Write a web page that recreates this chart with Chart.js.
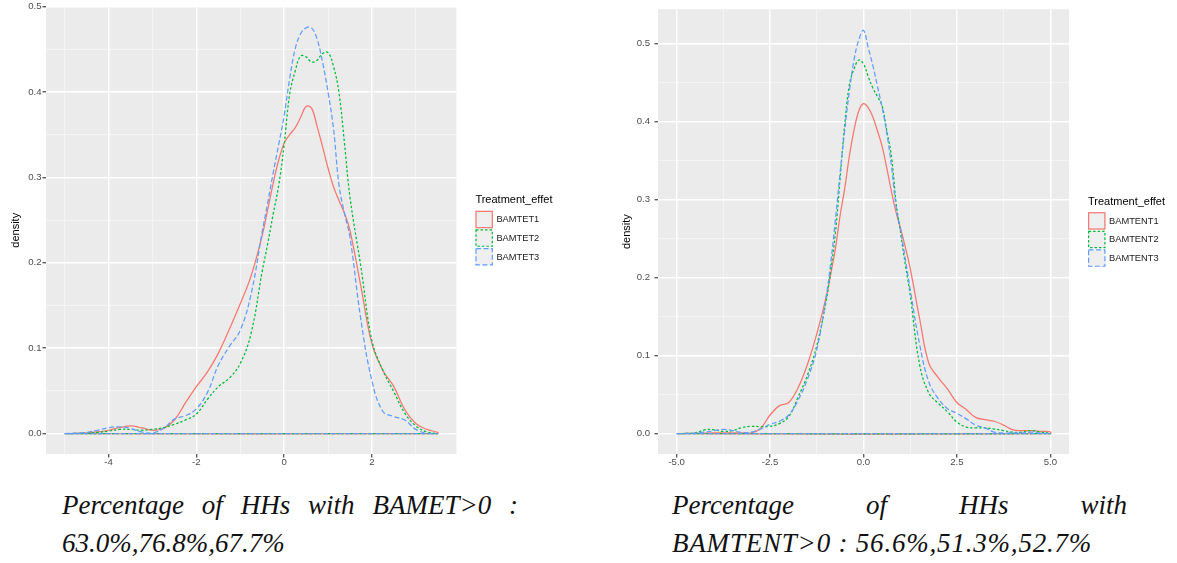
<!DOCTYPE html>
<html>
<head>
<meta charset="utf-8">
<script src="https://cdn.jsdelivr.net/npm/chart.js@4.4.1/dist/chart.umd.min.js"></script>
<style>
  html, body { margin: 0; padding: 0; background: #fff; }
  body { width: 1177px; height: 563px; position: relative; overflow: hidden; }
  canvas { position: absolute; top: 0; }
  #chartLeft { left: 0; }
  #chartRight { left: 612px; }
  .caption {
    position: absolute;
    top: 486px;
    width: 456px;
    font-family: "Liberation Serif", "DejaVu Serif", serif;
    font-style: italic;
    font-size: 27px;
    line-height: 38px;
    color: #111;
    text-align: justify;
    text-align-last: left;
  }
  #capLeft { left: 62px; }
  #capRight { left: 672px; width: 455px; }
  .nowrap { white-space: nowrap; letter-spacing: 0.8px; }
</style>
</head>
<body>
<canvas id="chartLeft" width="600" height="470"></canvas>
<canvas id="chartRight" width="565" height="470"></canvas>
<div class="caption" id="capLeft">Percentage of HHs with BAMET&gt;0 : 63.0%,76.8%,67.7%</div>
<div class="caption" id="capRight">Percentage of HHs with <span class="nowrap">BAMTENT&gt;0 : 56.6%,51.3%,52.7%</span></div>
<script>
// ---- left panel: BAMET densities ----
const leftX = [-5, -4.75, -4.5, -4.25, -4, -3.75, -3.5, -3.25, -3, -2.75, -2.5, -2.25, -2, -1.75, -1.5, -1.25, -1, -0.75,
   -0.5, -0.375, -0.25, -0.125, 0, 0.125, 0.25, 0.375, 0.5, 0.625, 0.75, 0.875, 1, 1.125, 1.25, 1.375, 1.5,
   1.75, 2, 2.25, 2.5, 2.75, 3, 3.25, 3.5];
const bamtet1 = [0, 0.0003, 0.001, 0.002, 0.004, 0.007, 0.009, 0.007, 0.004, 0.006, 0.016, 0.036, 0.055, 0.072, 0.094, 0.122, 0.152, 0.185,
   0.232, 0.262, 0.293, 0.320, 0.340, 0.350, 0.358, 0.370, 0.383, 0.381, 0.360, 0.336, 0.311, 0.289, 0.273, 0.258, 0.238,
   0.172, 0.105, 0.074, 0.055, 0.028, 0.012, 0.005, 0.0015];
const bamtet2 = [0, 0.0002, 0.0006, 0.0015, 0.003, 0.005, 0.005, 0.004, 0.005, 0.007, 0.011, 0.016, 0.023, 0.040, 0.055, 0.065, 0.082, 0.118,
   0.190, 0.222, 0.257, 0.290, 0.338, 0.397, 0.424, 0.442, 0.441, 0.435, 0.437, 0.445, 0.446, 0.430, 0.399, 0.340, 0.277,
   0.195, 0.109, 0.074, 0.049, 0.024, 0.009, 0.002, 0];
const bamtet3 = [0, 0.0005, 0.0015, 0.004, 0.007, 0.008, 0.006, 0.002, 0.001, 0.006, 0.017, 0.021, 0.029, 0.048, 0.080, 0.102, 0.121, 0.164,
   0.236, 0.270, 0.305, 0.338, 0.372, 0.415, 0.450, 0.468, 0.475, 0.475, 0.462, 0.435, 0.400, 0.357, 0.291, 0.258, 0.230,
   0.133, 0.062, 0.026, 0.020, 0.016, 0.005, 0.0005, 0];
const leftNames = ["BAMTET1", "BAMTET2", "BAMTET3"];
const leftXMajor = [-4, -2, 0, 2];
const leftXMinor = [-5, -3, -1, 1, 3];
const leftXLabels = ["-4", "-2", "0", "2"];

// ---- right panel: BAMTENT densities ----
const rightX = [-5, -4.75, -4.5, -4.25, -4, -3.75, -3.5, -3.25, -3, -2.75, -2.5, -2.25, -2, -1.75, -1.5, -1.25,
   -1, -0.875, -0.75, -0.625, -0.5, -0.375, -0.25, -0.125, 0, 0.125, 0.25, 0.375, 0.5, 0.625, 0.75, 0.875, 1, 1.125, 1.25,
   1.5, 1.75, 2, 2.25, 2.5, 2.75, 3, 3.25, 3.5, 3.75, 4, 4.25, 4.5, 4.75, 5];
const bamtent1 = [0, 0.0003, 0.0005, 0.0008, 0.001, 0.001, 0.001, 0.001, 0.001, 0.007, 0.024, 0.036, 0.040, 0.059, 0.089, 0.128,
   0.175, 0.205, 0.238, 0.280, 0.315, 0.357, 0.390, 0.414, 0.423, 0.418, 0.406, 0.388, 0.368, 0.340, 0.310, 0.283, 0.262, 0.238, 0.212,
   0.148, 0.090, 0.072, 0.057, 0.040, 0.031, 0.021, 0.018, 0.016, 0.011, 0.005, 0.004, 0.004, 0.003, 0.0025];
const bamtent2 = [0, 0.0003, 0.001, 0.005, 0.005, 0.003, 0.004, 0.008, 0.0095, 0.009, 0.0095, 0.013, 0.022, 0.047, 0.075, 0.113,
   0.170, 0.210, 0.258, 0.328, 0.398, 0.448, 0.468, 0.479, 0.474, 0.458, 0.443, 0.432, 0.420, 0.388, 0.355, 0.295, 0.255, 0.215, 0.178,
   0.089, 0.052, 0.039, 0.028, 0.015, 0.0085, 0.0075, 0.0075, 0.006, 0.004, 0.002, 0.002, 0.004, 0.002, 0.0005];
const bamtent3 = [0, 0.0003, 0.0008, 0.002, 0.004, 0.0055, 0.004, 0.0015, 0.002, 0.006, 0.012, 0.016, 0.024, 0.043, 0.070, 0.108,
   0.175, 0.220, 0.275, 0.335, 0.390, 0.440, 0.480, 0.505, 0.517, 0.495, 0.472, 0.445, 0.418, 0.385, 0.343, 0.290, 0.259, 0.222, 0.185,
   0.115, 0.066, 0.045, 0.032, 0.026, 0.019, 0.011, 0.0075, 0.002, 0.001, 0.001, 0.001, 0.002, 0.001, 0];
const rightNames = ["BAMTENT1", "BAMTENT2", "BAMTENT3"];
const rightXMajor = [-5, -2.5, 0, 2.5, 5];
const rightXMinor = [-3.75, -1.25, 1.25, 3.75];
const rightXLabels = ["-5.0", "-2.5", "0.0", "2.5", "5.0"];

const yMajor = [0, 0.1, 0.2, 0.3, 0.4, 0.5];
const yMinor = [0.05, 0.15, 0.25, 0.35, 0.45];
const yLabels = ["0.0", "0.1", "0.2", "0.3", "0.4", "0.5"];

const lineColors = ["#F8766D", "#00BA38", "#619CFF"];
const lineDashes = [[], [2.5, 2], [5, 2.5]];

Chart.defaults.font.family = '"Liberation Sans", Arial, sans-serif';

// ggplot draws each density as a closed polygon, so the path runs back along y = 0
function densityPath(xs, ys) {
   const pts = xs.map((x, i) => ({ x: x, y: ys[i] }));
   pts.push({ x: xs[xs.length - 1], y: 0 });
   pts.push({ x: xs[0], y: 0 });
   return pts;
}

function tickList(major, minor) {
   return major.map(v => ({ value: v }))
      .concat(minor.map(v => ({ value: v, minor: true })))
      .sort((a, b) => a.value - b.value);
}

const panelBackground = {
   id: "panelBackground",
   beforeDraw(chart) {
      const { ctx, chartArea: a } = chart;
      ctx.save();
      ctx.fillStyle = "#EBEBEB";
      ctx.fillRect(a.left, a.top, a.right - a.left, a.bottom - a.top);
      ctx.restore();
   }
};

const ggLegend = {
   id: "ggLegend",
   afterDraw(chart, args, opts) {
      const { ctx, chartArea: a } = chart;
      const x = a.right + 19;
      const mid = (a.top + a.bottom) / 2;
      ctx.save();
      ctx.textBaseline = "middle";
      ctx.fillStyle = "#000";
      ctx.font = '11px "Liberation Sans", Arial, sans-serif';
      ctx.fillText(opts.title, x, mid - 30);
      chart.data.datasets.forEach((ds, i) => {
         const top = mid - 19.5 + i * 18.6;
         ctx.fillStyle = "#EFEFEF";
         ctx.fillRect(x, top, 17.5, 17.5);
         ctx.strokeStyle = ds.borderColor;
         ctx.lineWidth = 1.2;
         ctx.setLineDash(ds.borderDash);
         ctx.strokeRect(x + 0.6, top + 0.6, 16.3, 16.3);
         ctx.setLineDash([]);
         ctx.fillStyle = "#1A1A1A";
         ctx.font = '9.3px "Liberation Sans", Arial, sans-serif';
         ctx.fillText(ds.label, x + 21, top + 9);
      });
      ctx.restore();
   }
};

function gridStyle() {
   return {
      color: c => (c.tick && c.tick.minor ? "rgba(255,255,255,0.55)" : "#FFFFFF"),
      lineWidth: c => (c.tick && c.tick.minor ? 0.8 : 1.5),
      tickColor: c => (c.tick && c.tick.minor ? "rgba(0,0,0,0)" : "#333333"),
      tickWidth: 1.1,
      tickLength: 3.5,
   };
}

function createDensityChart(chartId, p) {
   const ctx = document.getElementById(chartId).getContext("2d");
   const xTicks = tickList(p.xMajor, p.xMinor);
   const yTicks = tickList(yMajor, yMinor);

   const datasets = p.series.map((ys, i) => ({
      label: p.names[i],
      data: densityPath(p.xs, ys),
      showLine: true,
      borderColor: lineColors[i],
      borderDash: lineDashes[i],
      borderWidth: 1.25,
      pointRadius: 0,
      tension: 0.4,
      fill: false,
      order: p.series.length - i,
   }));

   return new Chart(ctx, {
      type: "scatter",
      data: { datasets: datasets },
      plugins: [panelBackground, ggLegend],
      options: {
         responsive: false,
         animation: false,
         events: [],
         layout: { padding: { top: 6.5, right: p.padRight, bottom: 0, left: 0 } },
         plugins: {
            legend: { display: false },
            tooltip: { enabled: false },
            ggLegend: { title: "Treatment_effet" },
         },
         scales: {
            x: {
               type: "linear",
               min: p.xMin,
               max: p.xMax,
               afterBuildTicks: s => { s.ticks = xTicks; },
               afterFit: s => { s.height = 16; },
               border: { display: false },
               grid: gridStyle(),
               ticks: {
                  autoSkip: false,
                  maxRotation: 0,
                  padding: 0,
                  color: "#4D4D4D",
                  font: { size: 9.6, lineHeight: 1 },
                  callback: (v, i, ticks) => (ticks[i].minor ? "" : p.xLabels[p.xMajor.indexOf(ticks[i].value)]),
               },
            },
            y: {
               type: "linear",
               min: p.yMin,
               max: p.yMax,
               afterBuildTicks: s => { s.ticks = yTicks; },
               afterFit: s => { s.width = 46; },
               border: { display: false },
               grid: gridStyle(),
               title: {
                  display: true,
                  text: "density",
                  color: "#000",
                  font: { size: 11 },
                  padding: { top: p.yTitlePad, bottom: 0 },
               },
               ticks: {
                  autoSkip: false,
                  padding: p.yTickPad,
                  color: "#4D4D4D",
                  font: { size: 9.6, lineHeight: 1 },
                  callback: (v, i, ticks) => (ticks[i].minor ? "" : yLabels[yMajor.indexOf(ticks[i].value)]),
               },
            },
         },
      },
   });
}

createDensityChart("chartLeft", {
   xs: leftX,
   series: [bamtet1, bamtet2, bamtet3],
   names: leftNames,
   xMin: -5.425, xMax: 3.925,
   yMin: -0.0238, yMax: 0.5,
   xMajor: leftXMajor, xMinor: leftXMinor, xLabels: leftXLabels,
   padRight: 143.6, yTickPad: 1, yTitlePad: 9.4,
});

createDensityChart("chartRight", {
   xs: rightX,
   series: [bamtent1, bamtent2, bamtent3],
   names: rightNames,
   xMin: -5.5, xMax: 5.5,
   yMin: -0.026, yMax: 0.544,
   xMajor: rightXMajor, xMinor: rightXMinor, xLabels: rightXLabels,
   padRight: 108, yTickPad: 4.5, yTitlePad: 8.4,
});
</script>
</body>
</html>
